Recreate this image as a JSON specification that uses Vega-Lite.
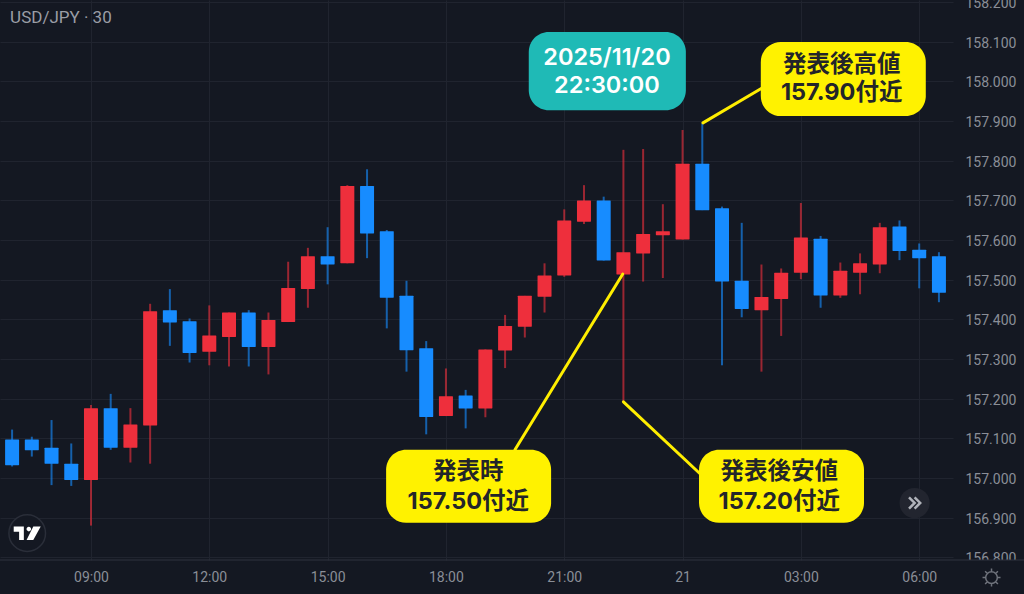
{
"$schema":"https://vega.github.io/schema/vega-lite/v6.json",
"width":953,"height":560,"padding":{"left":0,"top":0,"right":71,"bottom":34},"autosize":{"type":"none"},
"background":"#141822",
"config":{"view":{"stroke":null},"axis":{"gridColor":"#20242f","gridWidth":1,"tickSize":0,"domain":false,"labelFont":"Roboto","labelFontSize":14,"labelColor":"#8a8e97","title":null,"labelOverlap":false,"labelBound":false,"labelFlush":false}},
"datasets":{
"candles":[
{"t":"2025-11-20T07:00:00Z","o":157.097,"h":157.122,"l":157.029,"c":157.032,"dir":"down"},
{"t":"2025-11-20T07:30:00Z","o":157.097,"h":157.104,"l":157.054,"c":157.070,"dir":"down"},
{"t":"2025-11-20T08:00:00Z","o":157.076,"h":157.146,"l":156.982,"c":157.036,"dir":"down"},
{"t":"2025-11-20T08:30:00Z","o":157.036,"h":157.087,"l":156.980,"c":156.995,"dir":"down"},
{"t":"2025-11-20T09:00:00Z","o":156.995,"h":157.184,"l":156.880,"c":157.176,"dir":"up"},
{"t":"2025-11-20T09:30:00Z","o":157.176,"h":157.212,"l":157.071,"c":157.076,"dir":"down"},
{"t":"2025-11-20T10:00:00Z","o":157.076,"h":157.176,"l":157.039,"c":157.135,"dir":"up"},
{"t":"2025-11-20T10:30:00Z","o":157.132,"h":157.439,"l":157.036,"c":157.420,"dir":"up"},
{"t":"2025-11-20T11:00:00Z","o":157.423,"h":157.476,"l":157.333,"c":157.392,"dir":"down"},
{"t":"2025-11-20T11:30:00Z","o":157.395,"h":157.402,"l":157.291,"c":157.315,"dir":"down"},
{"t":"2025-11-20T12:00:00Z","o":157.318,"h":157.435,"l":157.284,"c":157.359,"dir":"up"},
{"t":"2025-11-20T12:30:00Z","o":157.355,"h":157.417,"l":157.281,"c":157.417,"dir":"up"},
{"t":"2025-11-20T13:00:00Z","o":157.417,"h":157.423,"l":157.281,"c":157.330,"dir":"down"},
{"t":"2025-11-20T13:30:00Z","o":157.330,"h":157.417,"l":157.261,"c":157.398,"dir":"up"},
{"t":"2025-11-20T14:00:00Z","o":157.393,"h":157.545,"l":157.393,"c":157.479,"dir":"up"},
{"t":"2025-11-20T14:30:00Z","o":157.476,"h":157.580,"l":157.429,"c":157.559,"dir":"up"},
{"t":"2025-11-20T15:00:00Z","o":157.559,"h":157.632,"l":157.488,"c":157.538,"dir":"down"},
{"t":"2025-11-20T15:30:00Z","o":157.541,"h":157.738,"l":157.541,"c":157.736,"dir":"up"},
{"t":"2025-11-20T16:00:00Z","o":157.736,"h":157.778,"l":157.554,"c":157.616,"dir":"down"},
{"t":"2025-11-20T16:30:00Z","o":157.622,"h":157.625,"l":157.377,"c":157.454,"dir":"down"},
{"t":"2025-11-20T17:00:00Z","o":157.459,"h":157.497,"l":157.268,"c":157.322,"dir":"down"},
{"t":"2025-11-20T17:30:00Z","o":157.327,"h":157.345,"l":157.110,"c":157.154,"dir":"down"},
{"t":"2025-11-20T18:00:00Z","o":157.156,"h":157.276,"l":157.156,"c":157.206,"dir":"up"},
{"t":"2025-11-20T18:30:00Z","o":157.208,"h":157.222,"l":157.125,"c":157.175,"dir":"down"},
{"t":"2025-11-20T19:00:00Z","o":157.175,"h":157.324,"l":157.153,"c":157.324,"dir":"up"},
{"t":"2025-11-20T19:30:00Z","o":157.321,"h":157.411,"l":157.277,"c":157.383,"dir":"up"},
{"t":"2025-11-20T20:00:00Z","o":157.381,"h":157.459,"l":157.354,"c":157.459,"dir":"up"},
{"t":"2025-11-20T20:30:00Z","o":157.457,"h":157.541,"l":157.417,"c":157.510,"dir":"up"},
{"t":"2025-11-20T21:00:00Z","o":157.510,"h":157.677,"l":157.507,"c":157.649,"dir":"up"},
{"t":"2025-11-20T21:30:00Z","o":157.646,"h":157.738,"l":157.640,"c":157.699,"dir":"up"},
{"t":"2025-11-20T22:00:00Z","o":157.699,"h":157.709,"l":157.548,"c":157.548,"dir":"down"},
{"t":"2025-11-20T22:30:00Z","o":157.513,"h":157.827,"l":157.190,"c":157.569,"dir":"up"},
{"t":"2025-11-20T23:00:00Z","o":157.566,"h":157.829,"l":157.495,"c":157.615,"dir":"up"},
{"t":"2025-11-20T23:30:00Z","o":157.612,"h":157.690,"l":157.504,"c":157.622,"dir":"up"},
{"t":"2025-11-21T00:00:00Z","o":157.601,"h":157.877,"l":157.601,"c":157.792,"dir":"up"},
{"t":"2025-11-21T00:30:00Z","o":157.792,"h":157.894,"l":157.675,"c":157.675,"dir":"down"},
{"t":"2025-11-21T01:00:00Z","o":157.680,"h":157.684,"l":157.284,"c":157.495,"dir":"down"},
{"t":"2025-11-21T01:30:00Z","o":157.497,"h":157.643,"l":157.405,"c":157.426,"dir":"down"},
{"t":"2025-11-21T02:00:00Z","o":157.423,"h":157.538,"l":157.268,"c":157.456,"dir":"up"},
{"t":"2025-11-21T02:30:00Z","o":157.451,"h":157.528,"l":157.358,"c":157.517,"dir":"up"},
{"t":"2025-11-21T03:00:00Z","o":157.517,"h":157.693,"l":157.501,"c":157.606,"dir":"up"},
{"t":"2025-11-21T03:30:00Z","o":157.603,"h":157.610,"l":157.429,"c":157.460,"dir":"down"},
{"t":"2025-11-21T04:00:00Z","o":157.460,"h":157.543,"l":157.454,"c":157.522,"dir":"up"},
{"t":"2025-11-21T04:30:00Z","o":157.517,"h":157.566,"l":157.463,"c":157.541,"dir":"up"},
{"t":"2025-11-21T05:00:00Z","o":157.538,"h":157.643,"l":157.516,"c":157.632,"dir":"up"},
{"t":"2025-11-21T05:30:00Z","o":157.634,"h":157.649,"l":157.549,"c":157.572,"dir":"down"},
{"t":"2025-11-21T06:00:00Z","o":157.575,"h":157.591,"l":157.478,"c":157.554,"dir":"down"},
{"t":"2025-11-21T06:30:00Z","o":157.559,"h":157.569,"l":157.443,"c":157.467,"dir":"down"}
],
"footer":[{"t":"2025-11-21T06:51:24Z","t2":"2025-11-21T08:40:00Z","p":156.7933,"p2":156.6}],
"axisLine":[{"t":"2025-11-20T06:41:00Z","t2":"2025-11-21T08:40:00Z","p":156.7933}],
"leaders":[
{"t":"2025-11-21T00:31:00Z","p":157.895,"t2":"2025-11-21T02:01:00Z","p2":157.983},
{"t":"2025-11-20T22:29:00Z","p":157.514,"t2":"2025-11-20T19:45:00Z","p2":157.071},
{"t":"2025-11-20T22:30:00Z","p":157.192,"t2":"2025-11-21T00:27:00Z","p2":157.010}
],
"tealBox":[{"t":"2025-11-20T20:06:00Z","t2":"2025-11-21T00:05:00Z","p":158.124,"p2":157.927}],
"yellowBoxes":[
{"t":"2025-11-21T01:59:00Z","t2":"2025-11-21T06:10:00Z","p":158.099,"p2":157.912},
{"t":"2025-11-20T16:29:00Z","t2":"2025-11-20T20:40:00Z","p":157.071,"p2":156.887},
{"t":"2025-11-21T00:25:00Z","t2":"2025-11-21T04:36:00Z","p":157.071,"p2":156.887}
],
"whiteLabels":[
{"t":"2025-11-20T22:05:00Z","p":158.059,"label":"2025/11/20"},
{"t":"2025-11-20T22:05:00Z","p":157.988,"label":"22:30:00"}
],
"darkLabels":[
{"t":"2025-11-21T04:02:00Z","p":158.041,"label":"発表後高値"},
{"t":"2025-11-21T04:02:00Z","p":157.971,"label":"157.90付近"},
{"t":"2025-11-20T18:34:00Z","p":157.016,"label":"発表時"},
{"t":"2025-11-20T18:34:00Z","p":156.940,"label":"157.50付近"},
{"t":"2025-11-21T02:27:00Z","p":157.016,"label":"発表後安値"},
{"t":"2025-11-21T02:27:00Z","p":156.940,"label":"157.20付近"}
],
"symbolLabel":[{"t":"2025-11-20T06:57:00Z","p":158.159,"label":"USD/JPY  ·  30"}],
"logo":[{"t":"2025-11-20T07:23:00Z","p":156.861}],
"scrollButton":[{"t":"2025-11-21T05:53:00Z","p":156.937}],
"gear":[{"t":"2025-11-21T07:50:00Z","p":156.749}]
},
"encoding":{
"x":{"field":"t","type":"temporal","scale":{"type":"utc","padding":0,"domain":[{"year":2025,"month":11,"date":20,"hours":6,"minutes":41,"seconds":36,"utc":true},{"year":2025,"month":11,"date":21,"hours":6,"minutes":51,"seconds":24,"utc":true}]},
"axis":{"orient":"bottom","labelPadding":10,"grid":true,"values":[{"year":2025,"month":11,"date":20,"hours":9,"utc":true},{"year":2025,"month":11,"date":20,"hours":12,"utc":true},{"year":2025,"month":11,"date":20,"hours":15,"utc":true},{"year":2025,"month":11,"date":20,"hours":18,"utc":true},{"year":2025,"month":11,"date":20,"hours":21,"utc":true},{"year":2025,"month":11,"date":21,"hours":0,"utc":true},{"year":2025,"month":11,"date":21,"hours":3,"utc":true},{"year":2025,"month":11,"date":21,"hours":6,"utc":true}],"labelExpr":"utcFormat(datum.value,'%H:%M')=='00:00'?'21':utcFormat(datum.value,'%H:%M')"}},
"y":{"field":"p","type":"quantitative","scale":{"domain":[156.7933,158.2046],"nice":false,"zero":false,"padding":0},
"axis":{"orient":"right","labelPadding":12,"labelOffset":1.5,"grid":true,"format":".3f","values":[156.8,156.9,157,157.1,157.2,157.3,157.4,157.5,157.6,157.7,157.8,157.9,158,158.1,158.2]}}
},
"layer":[
{"data":{"name":"candles"},"mark":{"type":"rule","strokeWidth":2,"opacity":0.62},
"encoding":{"y":{"field":"l","type":"quantitative","scale":{"domain":[156.7933,158.2046],"nice":false,"zero":false,"padding":0}},"y2":{"field":"h"},
"color":{"field":"dir","type":"nominal","scale":{"domain":["up","down"],"range":["#ee2f3c","#178cff"]},"legend":null}}},
{"data":{"name":"candles"},"mark":{"type":"bar","size":14,"cornerRadius":0.5},
"encoding":{"y":{"field":"o","type":"quantitative","scale":{"domain":[156.7933,158.2046],"nice":false,"zero":false,"padding":0}},"y2":{"field":"c"},
"color":{"field":"dir","type":"nominal","scale":{"domain":["up","down"],"range":["#ee2f3c","#178cff"]},"legend":null}}},
{"data":{"name":"footer"},"mark":{"type":"rect","fill":"#141822"},"encoding":{"x2":{"field":"t2"},"y2":{"field":"p2"}}},
{"data":{"name":"axisLine"},"mark":{"type":"rule","stroke":"#2f333e","strokeWidth":1},"encoding":{"x2":{"field":"t2"}}},
{"data":{"name":"leaders"},"mark":{"type":"rule","stroke":"#ffee00","strokeWidth":3,"strokeCap":"round"},"encoding":{"x2":{"field":"t2"},"y2":{"field":"p2"}}},
{"data":{"name":"tealBox"},"mark":{"type":"rect","fill":"#1fbab6","cornerRadius":20},"encoding":{"x2":{"field":"t2"},"y2":{"field":"p2"}}},
{"data":{"name":"yellowBoxes"},"mark":{"type":"rect","fill":"#fff200","cornerRadius":20},"encoding":{"x2":{"field":"t2"},"y2":{"field":"p2"}}},
{"data":{"name":"whiteLabels"},"mark":{"type":"text","font":"Inter, 'Noto Sans CJK JP'","fontSize":23.5,"fontWeight":600,"color":"#ffffff","align":"center","baseline":"middle"},"encoding":{"text":{"field":"label"}}},
{"data":{"name":"darkLabels"},"mark":{"type":"text","font":"Inter, 'Noto Sans CJK JP'","fontSize":23.5,"fontWeight":700,"color":"#23252a","align":"center","baseline":"middle"},"encoding":{"text":{"field":"label"}}},
{"data":{"name":"symbolLabel"},"mark":{"type":"text","font":"Roboto","fontSize":17,"color":"#9a9da6","align":"left","baseline":"middle"},"encoding":{"text":{"field":"label"}}},
{"data":{"name":"logo"},"mark":{"type":"point","shape":"circle","size":1340,"filled":true,"fill":"#141822","stroke":"#2a2e39","strokeWidth":1.5,"opacity":1}},
{"data":{"name":"logo"},"mark":{"type":"point","shape":"M-1 -.5H-.25V.5H-.6V-.1H-1ZM.45 -.5H1L.45 .5H-.05ZM-.05 -.3a.17 .17 0 1 0 .34 0a.17 .17 0 1 0 -.34 0Z","size":729,"filled":true,"fill":"#ffffff","opacity":1}},
{"data":{"name":"scrollButton"},"mark":{"type":"point","shape":"circle","size":908,"filled":true,"fill":"#22252f","opacity":1}},
{"data":{"name":"scrollButton"},"mark":{"type":"point","shape":"M-.8 -.8L0 0L-.8 .8M0 -.8L.8 0L0 .8","size":196,"filled":false,"stroke":"#b0b3ba","strokeWidth":2.5,"opacity":1}},
{"data":{"name":"gear"},"mark":{"type":"point","shape":"M.65 0a.65 .65 0 1 1 -1.3 0a.65 .65 0 1 1 1.3 0M.65 0H1M-.65 0H-1M0 .65V1M0 -.65V-1M.46 .46L.71 .71M-.46 .46L-.71 .71M.46 -.46L.71 -.71M-.46 -.46L-.71 -.71","size":324,"filled":false,"stroke":"#6f737c","strokeWidth":1.5,"opacity":1}}
]
}
